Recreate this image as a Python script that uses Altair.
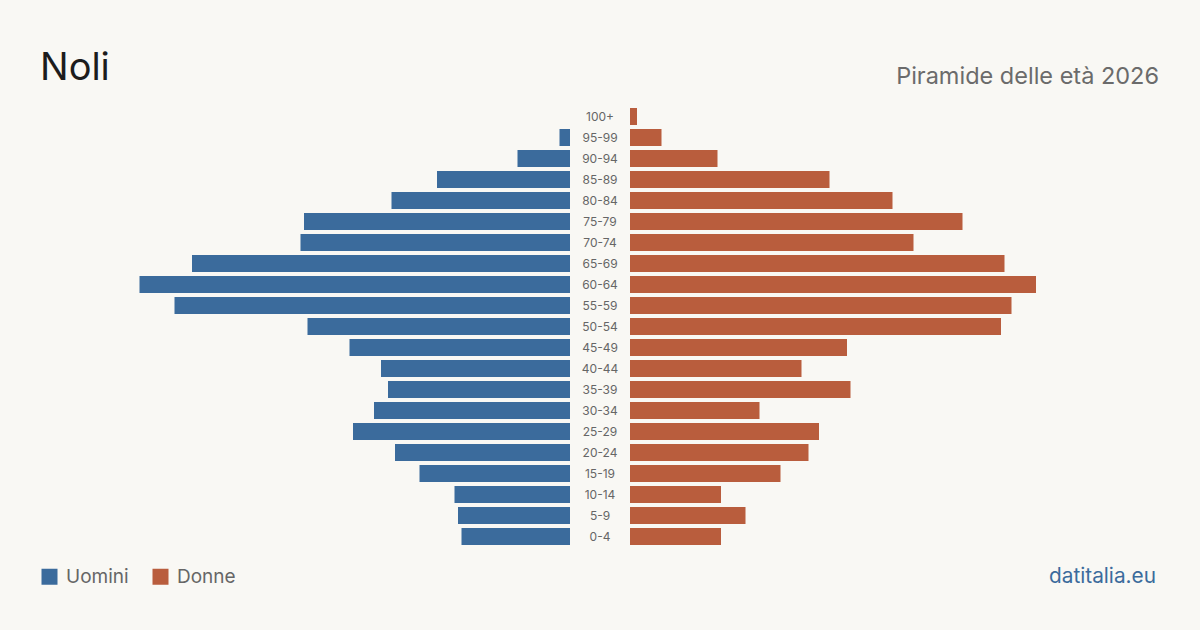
import altair as alt
import pandas as pd

# ---- data ----
age_groups = ["100+", "95-99", "90-94", "85-89", "80-84", "75-79", "70-74",
              "65-69", "60-64", "55-59", "50-54", "45-49", "40-44", "35-39",
              "30-34", "25-29", "20-24", "15-19", "10-14", "5-9", "0-4"]
men = [0, 3, 15, 38, 51, 76, 77, 108, 123, 113, 75, 63, 54, 52, 56, 62, 50, 43, 33, 32, 31]
women = [2, 9, 25, 57, 75, 95, 81, 107, 116, 109, 106, 62, 49, 63, 37, 54, 51, 43, 26, 33, 26]
sexes = ["Uomini", "Donne"]
title_text = "Noli"
subtitle_text = "Piramide delle età 2026"
source_text = "datitalia.eu"

BLUE = "#3b6b9c"
ORANGE = "#b95d3d"
BG = "#f9f8f4"
FONT = "Inter"

rows = []
for a, m, w in zip(age_groups, men, women):
    rows.append({"age": a, "sex": "Uomini", "value": m})
    rows.append({"age": a, "sex": "Donne", "value": w})
df = pd.DataFrame(rows)
ages_df = pd.DataFrame({"age": age_groups})

xscale = alt.Scale(domain=[-160, 160], nice=False, zero=False)
yenc = alt.Y("age:N", sort=age_groups,
             scale=alt.Scale(paddingInner=0.19, paddingOuter=0.095), axis=None)
color = alt.Color(
    "sex:N",
    scale=alt.Scale(domain=sexes, range=[BLUE, ORANGE]),
    legend=alt.Legend(
        orient="none", legendX=0, legendY=461, direction="horizontal",
        title=None, symbolType="square", symbolSize=256, symbolStrokeWidth=0,
        symbolOpacity=1, labelFontSize=19, labelColor="#666666", labelFont=FONT,
        labelOffset=7, columnPadding=22, padding=0,
    ),
)

base = alt.Chart(df)

men_bars = base.transform_filter(alt.datum.sex == "Uomini").transform_calculate(
    signed="-datum.value"
).mark_bar(xOffset=-30, x2Offset=-30).encode(
    x=alt.X("signed:Q", scale=xscale, axis=None),
    x2=alt.datum(0),
    y=yenc,
    color=color,
)

women_bars = base.transform_filter(alt.datum.sex == "Donne").transform_calculate(
    signed="datum.value"
).mark_bar(xOffset=30, x2Offset=30).encode(
    x=alt.X("signed:Q", scale=xscale, axis=None),
    x2=alt.datum(0),
    y=yenc,
    color=color,
)

labels = alt.Chart(ages_df).mark_text(
    fontSize=12, color="#666666", font=FONT, align="center", baseline="middle"
).encode(
    x=alt.datum(0),
    y=yenc,
    text="age:N",
)

title = alt.Chart(pd.DataFrame({"t": [title_text]})).mark_text(
    fontSize=38, color="#1c1c1c", font=FONT, align="left", baseline="alphabetic"
).encode(x=alt.value(0), y=alt.value(-26), text="t:N")

subtitle = alt.Chart(pd.DataFrame({"t": [subtitle_text]})).mark_text(
    fontSize=23.5, color="#6b6b6b", font=FONT, align="right", baseline="alphabetic",
).encode(x=alt.value(1119), y=alt.value(-22), text="t:N")

source = alt.Chart(pd.DataFrame({"t": [source_text]})).mark_text(
    fontSize=20.8, color=BLUE, font=FONT, align="right", baseline="alphabetic"
).encode(x=alt.value(1116), y=alt.value(477), text="t:N")

chart = alt.layer(men_bars, women_bars, labels, title, subtitle, source).properties(
    width=1120,
    height=441,
    autosize=alt.AutoSizeParams(type="none"),
    padding={"left": 40, "top": 106, "right": 40, "bottom": 83},
    background=BG,
).configure_view(stroke=None)

chart.save("out.html", embed_options={"renderer": "svg", "actions": False})
